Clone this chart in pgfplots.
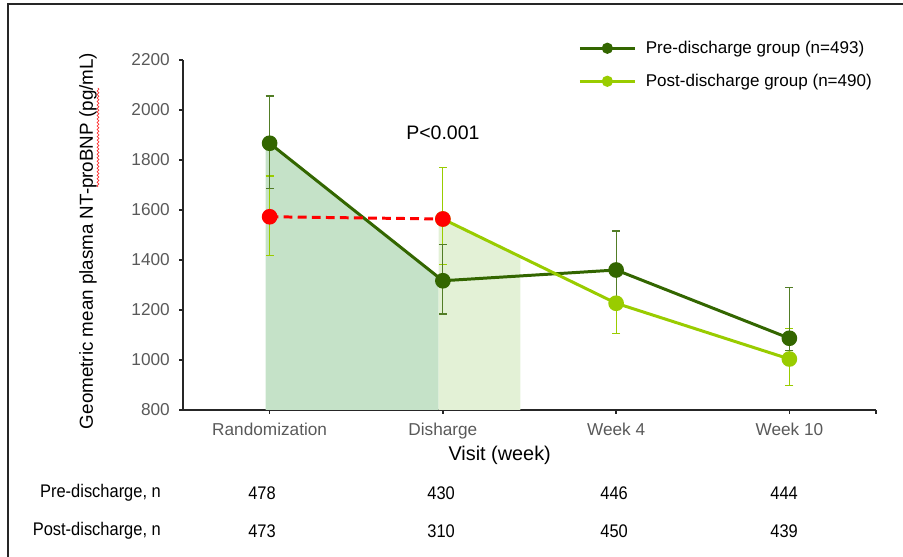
\documentclass[border=0pt]{standalone}
\usepackage{fontspec}
\setmainfont{Liberation Sans}
\newfontfamily\narrowfont{Liberation Sans}[FakeStretch=0.9]
\usepackage{pgfplots}
\usepackage{pgfplotstable}
\pgfplotsset{compat=1.18}
\usetikzlibrary{decorations.pathmorphing}

\definecolor{predark}{HTML}{336600}
\definecolor{postlight}{HTML}{99CC00}
\definecolor{fillpre}{HTML}{C5E2C8}
\definecolor{fillpost}{HTML}{E3F1D6}
\definecolor{ticktext}{HTML}{595959}

% visit index, geometric mean, upper and lower CI distance
\pgfplotstableread{
x y ep em
0 1867 189 180
1 1317 146 133
2 1360 156 130
3 1087 204 50
}\predata
\pgfplotstableread{
x y ep em
0 1573 163 156
1 1564 205 181
2 1227 113 120
3 1004 123 107
}\postdata
\pgfplotstableread{
x y
1 1564
2 1227
3 1004
}\postline

\begin{document}
\begin{tikzpicture}
\useasboundingbox (0,0) rectangle (18.06cm,11.14cm);
\begin{axis}[
  at={(3.66cm,2.94cm)}, anchor=south west,
  scale only axis, width=13.86cm, height=7cm,
  xmin=-0.5, xmax=3.5, ymin=800, ymax=2200,
  axis x line*=bottom, axis y line*=left,
  axis line style={black!85, line width=0.8pt, -},
  tick style={black!85, line width=0.8pt},
  tick align=outside, major tick length=0.08cm,
  xtick={0,1,2,3},
  xticklabels={Randomization,Disharge,Week 4,Week 10},
  extra x ticks={3.5}, extra x tick labels={},
  ytick={800,1000,...,2200},
  /pgf/number format/.cd, set thousands separator={}, assume math mode=true,
  /pgfplots/.cd,
  ticklabel style={font=\fontsize{9.8}{11}\selectfont, text=ticktext},
  yticklabel style={xshift=-0.06cm},
  xticklabel style={yshift=-0.06cm},
  xlabel={Visit (week)},
  xlabel style={font=\fontsize{11.3}{13}\selectfont, at={(axis description cs:0.457,-0.129)}, anchor=center},
  ylabel={Geometric mean plasma NT-proBNP (pg/mL)},
  ylabel style={font=\fontsize{10.7}{12}\selectfont, at={(axis description cs:-0.137,0.483)}, anchor=center, rotate=0},
  clip=false,
  legend style={at={(axis description cs:0.570,1.066)}, anchor=north west,
    draw=none, fill=none, font=\fontsize{9.7}{11}\selectfont,
    row sep=0.22cm, inner sep=0pt, legend cell align=left},
  legend image code/.code={
    \draw[mark repeat=2, mark phase=2, mark size=2.3pt, #1]
      plot coordinates {(0cm,0cm) (0.55cm,0cm) (1.1cm,0cm)};
    \path (1.22cm,0cm);},
]
% shaded intervals under each group's curve
\addplot[fill=fillpre, draw=none, forget plot]
  coordinates {(-0.023,800) (-0.023,1867) (0,1867) (0.975,1330.8) (0.975,800)} -- cycle;
\addplot[fill=fillpost, draw=none, forget plot]
  coordinates {(0.975,800) (0.975,1564) (1,1564) (1.448,1413) (1.448,800)} -- cycle;

% post-discharge confidence intervals
\addplot[forget plot, only marks, mark=none, postlight,
  error bars/.cd, y dir=both, y explicit,
  error bar style={postlight, line width=0.7pt},
  error mark options={rotate=90, mark size=0.08cm, postlight, line width=0.7pt}]
  table[x=x, y=y, y error plus=ep, y error minus=em] {\postdata};

% pre-discharge group
\addplot[predark, line width=1.7pt, mark=*, mark size=3.6pt,
  error bars/.cd, y dir=both, y explicit,
  error bar style={predark!85, line width=0.7pt},
  error mark options={rotate=90, mark size=0.08cm, predark!85, line width=0.7pt}]
  table[x=x, y=y, y error plus=ep, y error minus=em] {\predata};
\addlegendentry{Pre-discharge group (n=493)}

% post-discharge group
\addplot[postlight, line width=1.7pt, mark=*, mark size=3.6pt]
  table[x=x, y=y] {\postline};
\addlegendentry{Post-discharge group (n=490)}

% post-discharge group before its first visit after discharge
\addplot[forget plot, red, line width=1.7pt, dash pattern=on 5pt off 3pt,
  mark=*, mark size=3.6pt, mark options={solid, fill=red, draw=red}]
  coordinates {(0,1573) (1,1564)};

\node[font=\fontsize{11.1}{13}\selectfont] at (axis cs:1,1908) {P<0.001};
\end{axis}

\begin{scope}[x=0.02cm, y=0.02cm]
  % frame
  \draw[black!85, line width=1.2pt] (8,-5) -- (8,553) -- (910,553);
  % spell-check underline
  \draw[red!80, line width=0.4pt, decorate,
    decoration={snake, amplitude=0.5pt, segment length=2pt}]
    (98,370) -- (98,469);
  % counts per visit
  \begin{scope}[font=\narrowfont\fontsize{10.4}{12}\selectfont]
    \node[anchor=east] at (167,64) {Pre-discharge, n};
    \node[anchor=east] at (167,26) {Post-discharge, n};
    \foreach \xx/\a/\b in {262/478/473, 441/430/310, 614/446/450, 784/444/439} {
      \node at (\xx,64) {\a};
      \node at (\xx,26) {\b};
    }
  \end{scope}
\end{scope}
\end{tikzpicture}
\end{document}
